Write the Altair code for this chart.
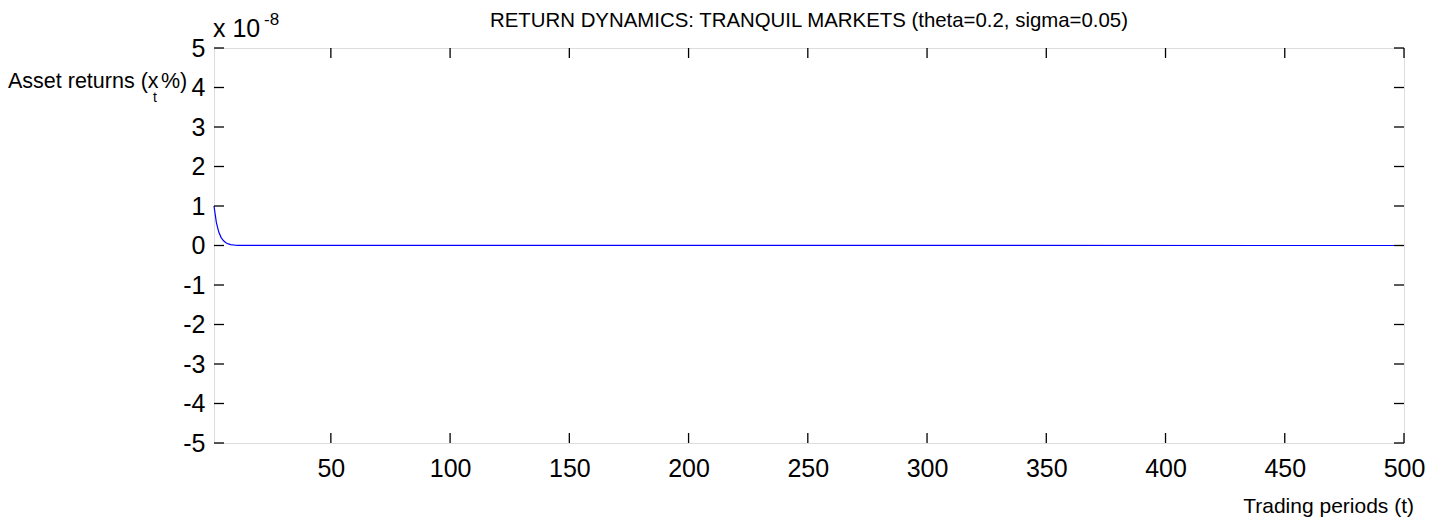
import altair as alt
import pandas as pd

# ---- data ----
periods = [1, 2, 3, 4, 5, 6, 7, 8, 9, 10, 11, 12, 500]
returns = [1.0e-8, 0.58e-8, 0.34e-8, 0.2e-8, 0.12e-8, 0.07e-8, 0.04e-8,
           0.024e-8, 0.014e-8, 0.008e-8, 0.005e-8, 0.003e-8, 0.0]
x_ticks = [50, 100, 150, 200, 250, 300, 350, 400, 450, 500]
y_ticks = [-5e-8, -4e-8, -3e-8, -2e-8, -1e-8, 0.0, 1e-8, 2e-8, 3e-8, 4e-8, 5e-8]

title_text = "RETURN DYNAMICS: TRANQUIL MARKETS (theta=0.2, sigma=0.05)"
x_title = "Trading periods (t)"
y_title_main = "Asset returns (x"
y_title_sub = "t"
y_title_end = "%)"
mult_base = "x 10"
mult_exp = "-8"

W, H = 1190, 395
FONT = "Liberation Sans"

df = pd.DataFrame({"t": periods, "r": returns})
xt = pd.DataFrame({"t": x_ticks})
yt = pd.DataFrame({"r": y_ticks})
dummy = pd.DataFrame({"a": [0]})

xscale = alt.Scale(domain=[1, 500], nice=False, zero=False)
yscale = alt.Scale(domain=[-5e-8, 5e-8], nice=False)

xaxis = alt.Axis(values=x_ticks, ticks=False, tickSize=0, domain=False, grid=False,
                 labelFontSize=25, labelFont=FONT, labelColor="black",
                 labelPadding=13, title=None, labelFlush=False)
yaxis = alt.Axis(values=y_ticks, ticks=False, tickSize=0, domain=False, grid=False,
                 labelFontSize=25, labelFont=FONT, labelColor="black",
                 labelPadding=9, title=None, labelFlush=False,
                 labelExpr="'' + round(datum.value * 1e8)")

X = alt.X("t:Q", scale=xscale, axis=xaxis)
Y = alt.Y("r:Q", scale=yscale, axis=yaxis)

line = alt.Chart(df).mark_line(color="#0000ff", strokeWidth=1.2).encode(x=X, y=Y)

tick_len = 10
SW = 1.3
bottom_ticks = alt.Chart(xt).mark_rule(color="black", strokeWidth=SW).encode(
    x=X, y=alt.value(H), y2=alt.value(H - tick_len))
top_ticks = alt.Chart(xt).mark_rule(color="black", strokeWidth=SW).encode(
    x=X, y=alt.value(0), y2=alt.value(tick_len))
left_ticks = alt.Chart(yt).mark_rule(color="black", strokeWidth=SW).encode(
    y=Y, x=alt.value(0), x2=alt.value(tick_len))
right_ticks = alt.Chart(yt).mark_rule(color="black", strokeWidth=SW).encode(
    y=Y, x=alt.value(W), x2=alt.value(W - tick_len))


def label(text, x, y, size, align="left"):
    return alt.Chart(dummy).mark_text(
        font=FONT, fontSize=size, align=align, baseline="alphabetic", color="black"
    ).encode(x=alt.value(x), y=alt.value(y), text=alt.value(text))


texts = [
    label(title_text, W / 2, -21, 20.4, "center"),
    label(mult_base, -1, -11, 25),
    label(mult_exp, 50, -23, 17),
    label(y_title_main, -206, 40, 21.5),
    label(y_title_sub, -61, 54, 14),
    label(y_title_end, -53, 40, 21.5),
    label(x_title, 1200, 465, 21, "right"),
]

chart = alt.layer(line, bottom_ticks, top_ticks, left_ticks, right_ticks, *texts).properties(
    width=W, height=H,
    autosize=alt.AutoSizeParams(type="none"),
    padding={"left": 206, "top": 40, "right": 30, "bottom": 74},
    background="white",
).configure_view(stroke="black", strokeWidth=1.3).configure(font=FONT)

chart.save("out.html", embed_options={"renderer": "svg", "actions": False})
